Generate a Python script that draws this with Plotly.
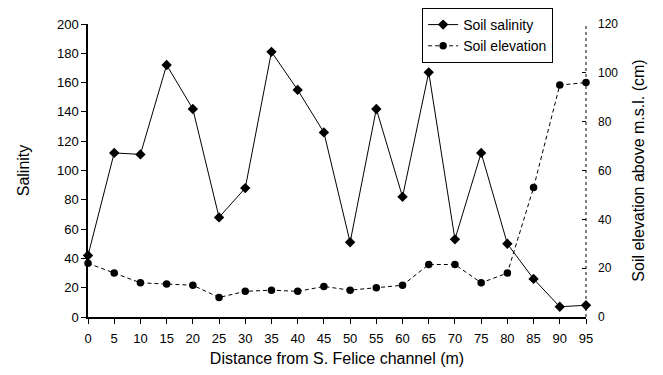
import plotly.graph_objects as go

distance = [0, 5, 10, 15, 20, 25, 30, 35, 40, 45, 50, 55, 60, 65, 70, 75, 80, 85, 90, 95]
salinity = [42, 112, 111, 172, 142, 68, 88, 181, 155, 126, 51, 142, 82, 167, 53, 112, 50, 26, 7, 8]
elevation = [22, 18, 14, 13.5, 13, 8, 10.5, 11, 10.5, 12.5, 11, 12, 13, 21.5, 21.5, 14, 18, 53, 95, 96]

FONT = "Liberation Sans, Arial, sans-serif"
TOP = 293 / 309

fig = go.Figure()
fig.add_trace(go.Scatter(
    x=distance, y=salinity, name="Soil salinity", mode="lines+markers",
    legendgroup="a",
    line=dict(color="black", width=1),
    marker=dict(symbol="diamond", size=8, color="black"),
    cliponaxis=False,
))
fig.add_trace(go.Scatter(
    x=distance, y=elevation, name="Soil elevation", mode="lines+markers",
    legendgroup="b",
    line=dict(color="black", width=1, dash="4px,3px"),
    marker=dict(symbol="circle", size=7.5, color="black"),
    cliponaxis=False, yaxis="y2",
))

fig.update_layout(
    width=647, height=359,
    margin=dict(l=80, r=69, t=0, b=50),
    paper_bgcolor="white", plot_bgcolor="white",
    font=dict(family=FONT, color="black", size=13),
    xaxis=dict(
        range=[0, 95], tickmode="array", tickvals=distance,
        showline=True, linecolor="black", linewidth=1.5,
        ticks="outside", ticklen=5, tickcolor="black", tickwidth=1,
        showgrid=False, zeroline=False, automargin=False,
        tickfont=dict(size=13), ticklabelstandoff=4,
        title=dict(text="Distance from S. Felice channel (m)", font=dict(size=16), standoff=12),
    ),
    yaxis=dict(
        range=[0, 200], dtick=20, domain=[0, TOP],
        showline=True, linecolor="black", linewidth=1.5,
        ticks="outside", ticklen=5, tickcolor="black", tickwidth=1,
        showgrid=False, zeroline=False, automargin=False,
        tickfont=dict(size=13),
        title=dict(text="Salinity", font=dict(size=16), standoff=23),
    ),
    yaxis2=dict(
        range=[0, 120], dtick=20, overlaying="y", side="right",
        showline=False, automargin=False,
        ticks="inside", ticklen=4, tickcolor="black", tickwidth=1,
        showgrid=False, zeroline=False,
        tickfont=dict(size=12),
        ticklabelstandoff=11,
        title=dict(text="Soil elevation above m.s.l. (cm)", font=dict(size=16), standoff=15),
    ),
    legend=dict(
        x=0.934, y=1, xanchor="right", yanchor="top",
        bgcolor="white", bordercolor="black", borderwidth=1,
        font=dict(size=14), tracegroupgap=0, itemwidth=30,
    ),
    shapes=[dict(
        type="line", xref="x domain", yref="y domain", x0=1, x1=1, y0=0, y1=1,
        line=dict(color="black", width=1, dash="dot"), layer="below",
    )],
)

fig.write_html("out.html")
